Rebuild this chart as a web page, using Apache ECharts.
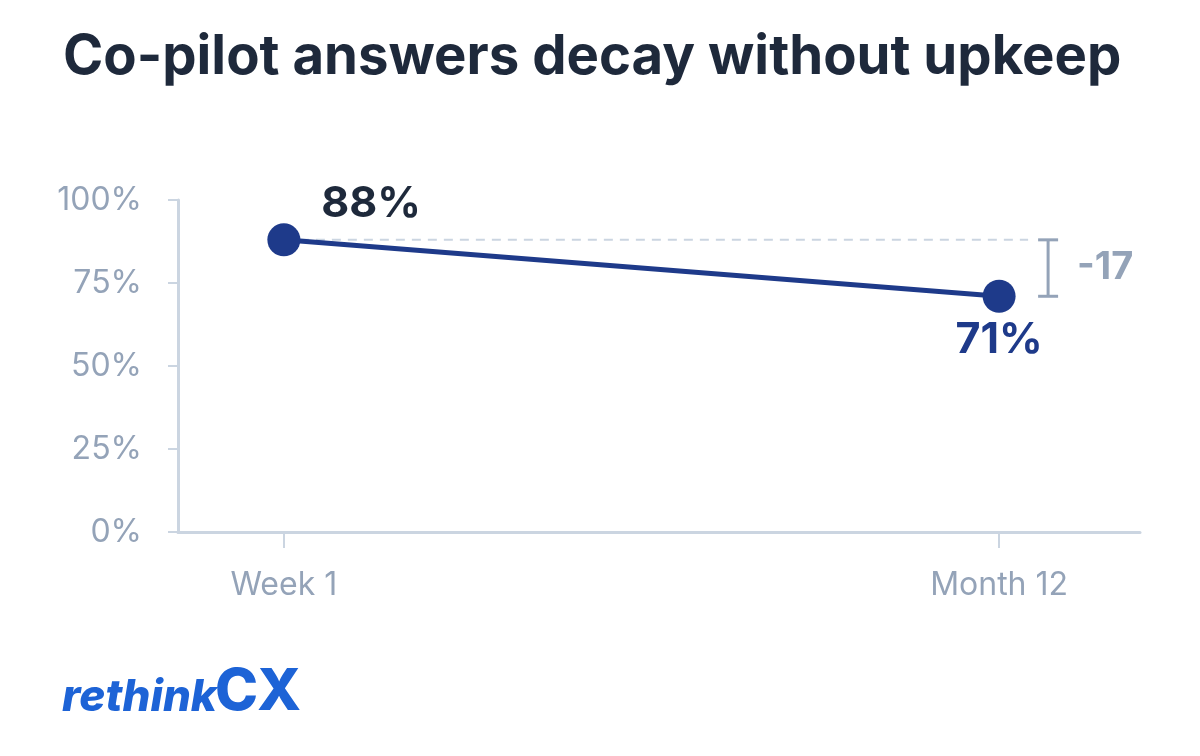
<!DOCTYPE html>
<html><head><meta charset="utf-8">
<script src="https://cdn.jsdelivr.net/npm/echarts@6/dist/echarts.min.js"></script>
<style>html,body{margin:0;padding:0;background:#fff}#c{width:1200px;height:756px}</style>
</head><body><div id="c"></div>
<script>
const categories = ['Week 1', 'Month 12'];
const values = [88, 71];
const yTicks = [0, 25, 50, 75, 100];
const deltaLabel = '-17';

const chart = echarts.init(document.getElementById('c'), null, {renderer: 'canvas'});
const F = 'Inter, "Noto Sans", sans-serif';
const pts = values.map((v, i) => [i, v]);

chart.setOption({
  animation: false,
  backgroundColor: '#ffffff',
  title: {
    text: 'Co-pilot answers decay without upkeep',
    left: 58, top: 25,
    textStyle: {fontFamily: F, fontSize: 54.5, fontWeight: 700, color: '#1e293b'}
  },
  graphic: [{
    type: 'text', x: 62, y: 698,
    style: {text: 'rethink', fontFamily: F, fontSize: 44, fontWeight: 800, fontStyle: 'italic',
      fill: '#1d63d6', align: 'left', verticalAlign: 'middle'}
  }, {
    type: 'text', x: 215, y: 693,
    style: {text: 'CX', fontFamily: F, fontSize: 58, fontWeight: 800,
      fill: '#1d63d6', align: 'left', verticalAlign: 'middle'}
  }],
  grid: {left: 178, right: 60, top: 200, bottom: 224},
  xAxis: {
    type: 'value', min: -0.148, max: 1.197,
    axisLine: {show: true, lineStyle: {color: '#cbd5e1', width: 3}},
    axisTick: {show: true, length: 16, customValues: [0, 1], lineStyle: {color: '#cbd5e1', width: 2}},
    axisLabel: {customValues: [0, 1], formatter: v => categories[Math.round(v)], margin: 37,
      fontFamily: F, fontSize: 32, color: '#94a3b8'},
    splitLine: {show: false}
  },
  yAxis: {
    type: 'value', min: 0, max: yTicks[yTicks.length - 1], interval: yTicks[1] - yTicks[0],
    axisLine: {show: true, onZero: false, lineStyle: {color: '#cbd5e1', width: 3}},
    axisTick: {show: true, length: 10, lineStyle: {color: '#cbd5e1', width: 2}},
    axisLabel: {formatter: '{value}%', margin: 36, fontFamily: F, fontSize: 32, color: '#94a3b8'},
    splitLine: {show: false}
  },
  series: [{
    type: 'custom',
    silent: true,
    z: 1,
    data: [[1, values[0], values[1]]],
    renderItem: function (params, api) {
      const top = api.coord([api.value(0), api.value(1)]);
      const bot = api.coord([api.value(0), api.value(2)]);
      const start = api.coord([0, values[0]]);
      const bx = bot[0] + 49;
      const st = {stroke: '#94a3b8', lineWidth: 3};
      return {type: 'group', children: [
        {type: 'line', shape: {x1: start[0], y1: top[1], x2: bx - 20, y2: top[1]},
          style: {stroke: '#cbd5e1', lineWidth: 2, lineDash: [9, 7]}},
        {type: 'line', shape: {x1: bx, y1: top[1], x2: bx, y2: bot[1]}, style: st},
        {type: 'line', shape: {x1: bx - 10, y1: top[1], x2: bx + 10, y2: top[1]}, style: st},
        {type: 'line', shape: {x1: bx - 10, y1: bot[1], x2: bx + 10, y2: bot[1]}, style: st},
        {type: 'text', x: bx + 29, y: (top[1] + bot[1]) / 2,
          style: {text: deltaLabel, fontFamily: F, fontSize: 38, fontWeight: 700, fill: '#94a3b8',
            align: 'left', verticalAlign: 'middle'}}
      ]};
    }
  }, {
    type: 'line',
    z: 3,
    symbol: 'circle', symbolSize: 33,
    lineStyle: {color: '#1e3a8a', width: 5},
    itemStyle: {color: '#1e3a8a'},
    label: {show: true, formatter: p => p.value[1] + '%', fontFamily: F, fontWeight: 700, fontSize: 43},
    data: [
      {value: pts[0], label: {position: [54, -19], align: 'left', verticalAlign: 'middle', color: '#1e293b'}},
      {value: pts[1], label: {position: [16.5, 60], align: 'center', verticalAlign: 'middle', color: '#1e3a8a'}}
    ]
  }]
});
</script></body></html>
